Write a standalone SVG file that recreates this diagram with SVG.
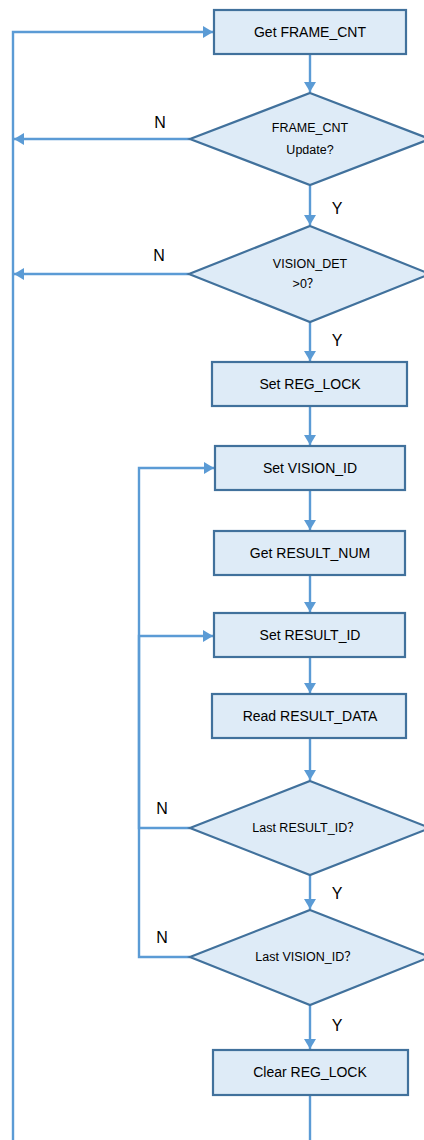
<svg xmlns="http://www.w3.org/2000/svg" width="424" height="1140" viewBox="0 0 424 1140">
<style>
.box{fill:#DEEBF7;stroke:#41719C;stroke-width:2.2}
.bt{font-family:"Liberation Sans",Arial,sans-serif;font-size:14px;fill:#000;text-anchor:middle;dominant-baseline:central}
.dt{font-family:"Liberation Sans","Noto Sans CJK SC",Arial,sans-serif;font-size:12.5px;fill:#000;text-anchor:middle;dominant-baseline:central}
.lb{font-family:"Liberation Sans",Arial,sans-serif;font-size:16px;fill:#000;text-anchor:middle;dominant-baseline:central}
.c{fill:none;stroke:#5B9BD5;stroke-width:2.4}
.a{marker-end:url(#ah)}
</style>
<defs>
<marker id="ah" viewBox="0 0 10 12" refX="10" refY="6" markerWidth="10" markerHeight="12" markerUnits="userSpaceOnUse" orient="auto">
<path d="M0,0 L10,6 L0,12 Z" fill="#5B9BD5"/>
</marker>
</defs>
<g id="connectors">
<path class="c" d="M13,1140 V32 H213" marker-end="url(#ah)"/>
<path class="c a" d="M310,55 V92"/>
<path class="c a" d="M190,139 H14"/>
<path class="c a" d="M310,186 V225"/>
<path class="c a" d="M189,274 H14"/>
<path class="c a" d="M310,322 V361"/>
<path class="c a" d="M310,407 V445"/>
<path class="c a" d="M310,491 V530"/>
<path class="c a" d="M310,576 V612"/>
<path class="c a" d="M310,658 V693"/>
<path class="c a" d="M310,739 V780"/>
<path class="c a" d="M310,875 V909"/>
<path class="c a" d="M310,1005 V1049"/>
<path class="c" d="M310,1096 V1140"/>
<path class="c a" d="M190,828 H139 V636 H213"/>
<path class="c a" d="M190,957 H139 V468 H214"/>
</g>
<g id="labels">
<text class="lb" x="160" y="122">N</text>
<text class="lb" x="337" y="208">Y</text>
<text class="lb" x="159" y="255">N</text>
<text class="lb" x="337" y="340">Y</text>
<text class="lb" x="162" y="808">N</text>
<text class="lb" x="337" y="893">Y</text>
<text class="lb" x="162" y="937">N</text>
<text class="lb" x="337" y="1025">Y</text>
</g>
<g id="n1"><rect class="box" x="214" y="10" width="192" height="44"/><text class="bt" x="310" y="32">Get FRAME_CNT</text></g>
<g id="n2"><path class="box" d="M310,93 L430,139 L310,185 L190,139 Z"/><text class="dt" x="310" y="128">FRAME_CNT</text><text class="dt" x="310" y="150">Update?</text></g>
<g id="n3"><path class="box" d="M310,226 L430,274 L310,322 L189,274 Z"/><text class="dt" x="310" y="264">VISION_DET</text><text class="dt" x="306" y="284">&gt;0？</text></g>
<g id="n4"><rect class="box" x="212" y="362" width="195" height="44"/><text class="bt" x="310" y="384">Set REG_LOCK</text></g>
<g id="n5"><rect class="box" x="215" y="446" width="190" height="44"/><text class="bt" x="310" y="468">Set VISION_ID</text></g>
<g id="n6"><rect class="box" x="214" y="531" width="191" height="44"/><text class="bt" x="310" y="553">Get RESULT_NUM</text></g>
<g id="n7"><rect class="box" x="214" y="613" width="191" height="44"/><text class="bt" x="310" y="635">Set RESULT_ID</text></g>
<g id="n8"><rect class="box" x="212" y="694" width="194" height="44"/><text class="bt" x="310" y="716">Read RESULT_DATA</text></g>
<g id="n9"><path class="box" d="M310,781 L430,828 L310,875 L190,828 Z"/><text class="dt" x="306" y="828">Last RESULT_ID？</text></g>
<g id="n10"><path class="box" d="M310,910 L430,957 L310,1005 L190,957 Z"/><text class="dt" x="306" y="957">Last VISION_ID？</text></g>
<g id="n11"><rect class="box" x="213" y="1050" width="195" height="45"/><text class="bt" x="310" y="1072">Clear REG_LOCK</text></g>
</svg>
